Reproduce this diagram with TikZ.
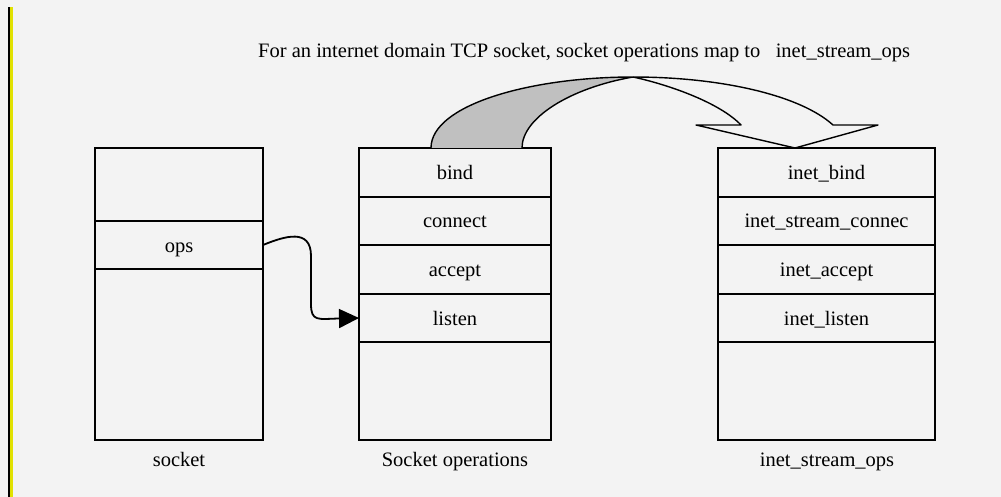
\documentclass[tikz,border=0pt]{standalone}
\usepackage{fontspec}
\setmainfont{Liberation Serif}
\usetikzlibrary{arrows.meta}
\definecolor{bg}{RGB}{243,243,243}
\definecolor{ylw}{RGB}{225,225,0}
\definecolor{ribbon}{RGB}{192,192,192}
\begin{document}
\begin{tikzpicture}[x=1pt,y=-1pt,
  font=\fontsize{20.5}{24}\selectfont,
  cell/.style={draw, line width=1.5pt, inner sep=0pt, outer sep=0pt, anchor=north west,
    text height=14pt, text depth=0pt},
  sockcell/.style={cell, minimum width=168pt},
  opcell/.style={cell, minimum width=192pt},
  inetcell/.style={cell, minimum width=217pt},
  caption/.style={inner sep=0pt, anchor=base},
  outline/.style={line width=1.4pt, line join=round}]
\fill[bg] (0,0) rectangle (1001,497);
\useasboundingbox (0,0) rectangle (1001,497);
\fill[black] (8,7) rectangle (9.5,497);
\fill[ylw] (9.5,7) rectangle (12.5,497);

% title
\node[anchor=base west, inner sep=0pt] (title) at (258,58)
  {For an internet domain TCP socket, socket operations map to\ \ \ inet\_stream\_ops};

% socket box
\node[sockcell, minimum height=73pt] (s1) at (95,148) {};
\node[sockcell, minimum height=48pt] (ops) at (95,221) {ops};
\node[sockcell, minimum height=171pt] (s3) at (95,269) {};

% socket operations box
\node[opcell, minimum height=49pt] (bind) at (359,148) {bind};
\node[opcell, minimum height=48pt] (connect) at (359,197) {connect};
\node[opcell, minimum height=49pt] (accept) at (359,245) {accept};
\node[opcell, minimum height=48pt] (listen) at (359,294) {listen};
\node[opcell, minimum height=98pt] (o5) at (359,342) {};

% inet_stream_ops box
\node[inetcell, minimum height=49pt] (ibind) at (718,148) {inet\_bind};
\node[inetcell, minimum height=48pt] (iconnect) at (718,197) {inet\_stream\_connec};
\node[inetcell, minimum height=49pt] (iaccept) at (718,245) {inet\_accept};
\node[inetcell, minimum height=48pt] (ilisten) at (718,294) {inet\_listen};
\node[inetcell, minimum height=98pt] (i5) at (718,342) {};

% captions
\node[caption] (lsock) at (179,466) {socket};
\node[caption] (lops) at (455,466) {Socket operations};
\node[caption] (linet) at (827,466) {inet\_stream\_ops};

% big twisted arrow
\coordinate (P) at (633,77);
\filldraw[outline, fill=ribbon] (431,148) .. controls (431,105) and (530,77) .. (P)
   .. controls (570,88) and (522,118) .. (522,148);
\draw[outline, fill=bg] (P) .. controls (720,77) and (800,95) .. (833,125)
   -- (878,125) -- (795,148) -- (696,125) -- (741,125)
   .. controls (720,103) and (670,85) .. (P);

% ops pointer
\draw[line width=1.8pt, -{Triangle[length=20pt,width=19pt]}]
  (ops.east) .. controls (285,236) and (311,228) .. (311,256)
  -- (311,304) .. controls (311,322) and (318,319) .. (listen.west);
\end{tikzpicture}
\end{document}
